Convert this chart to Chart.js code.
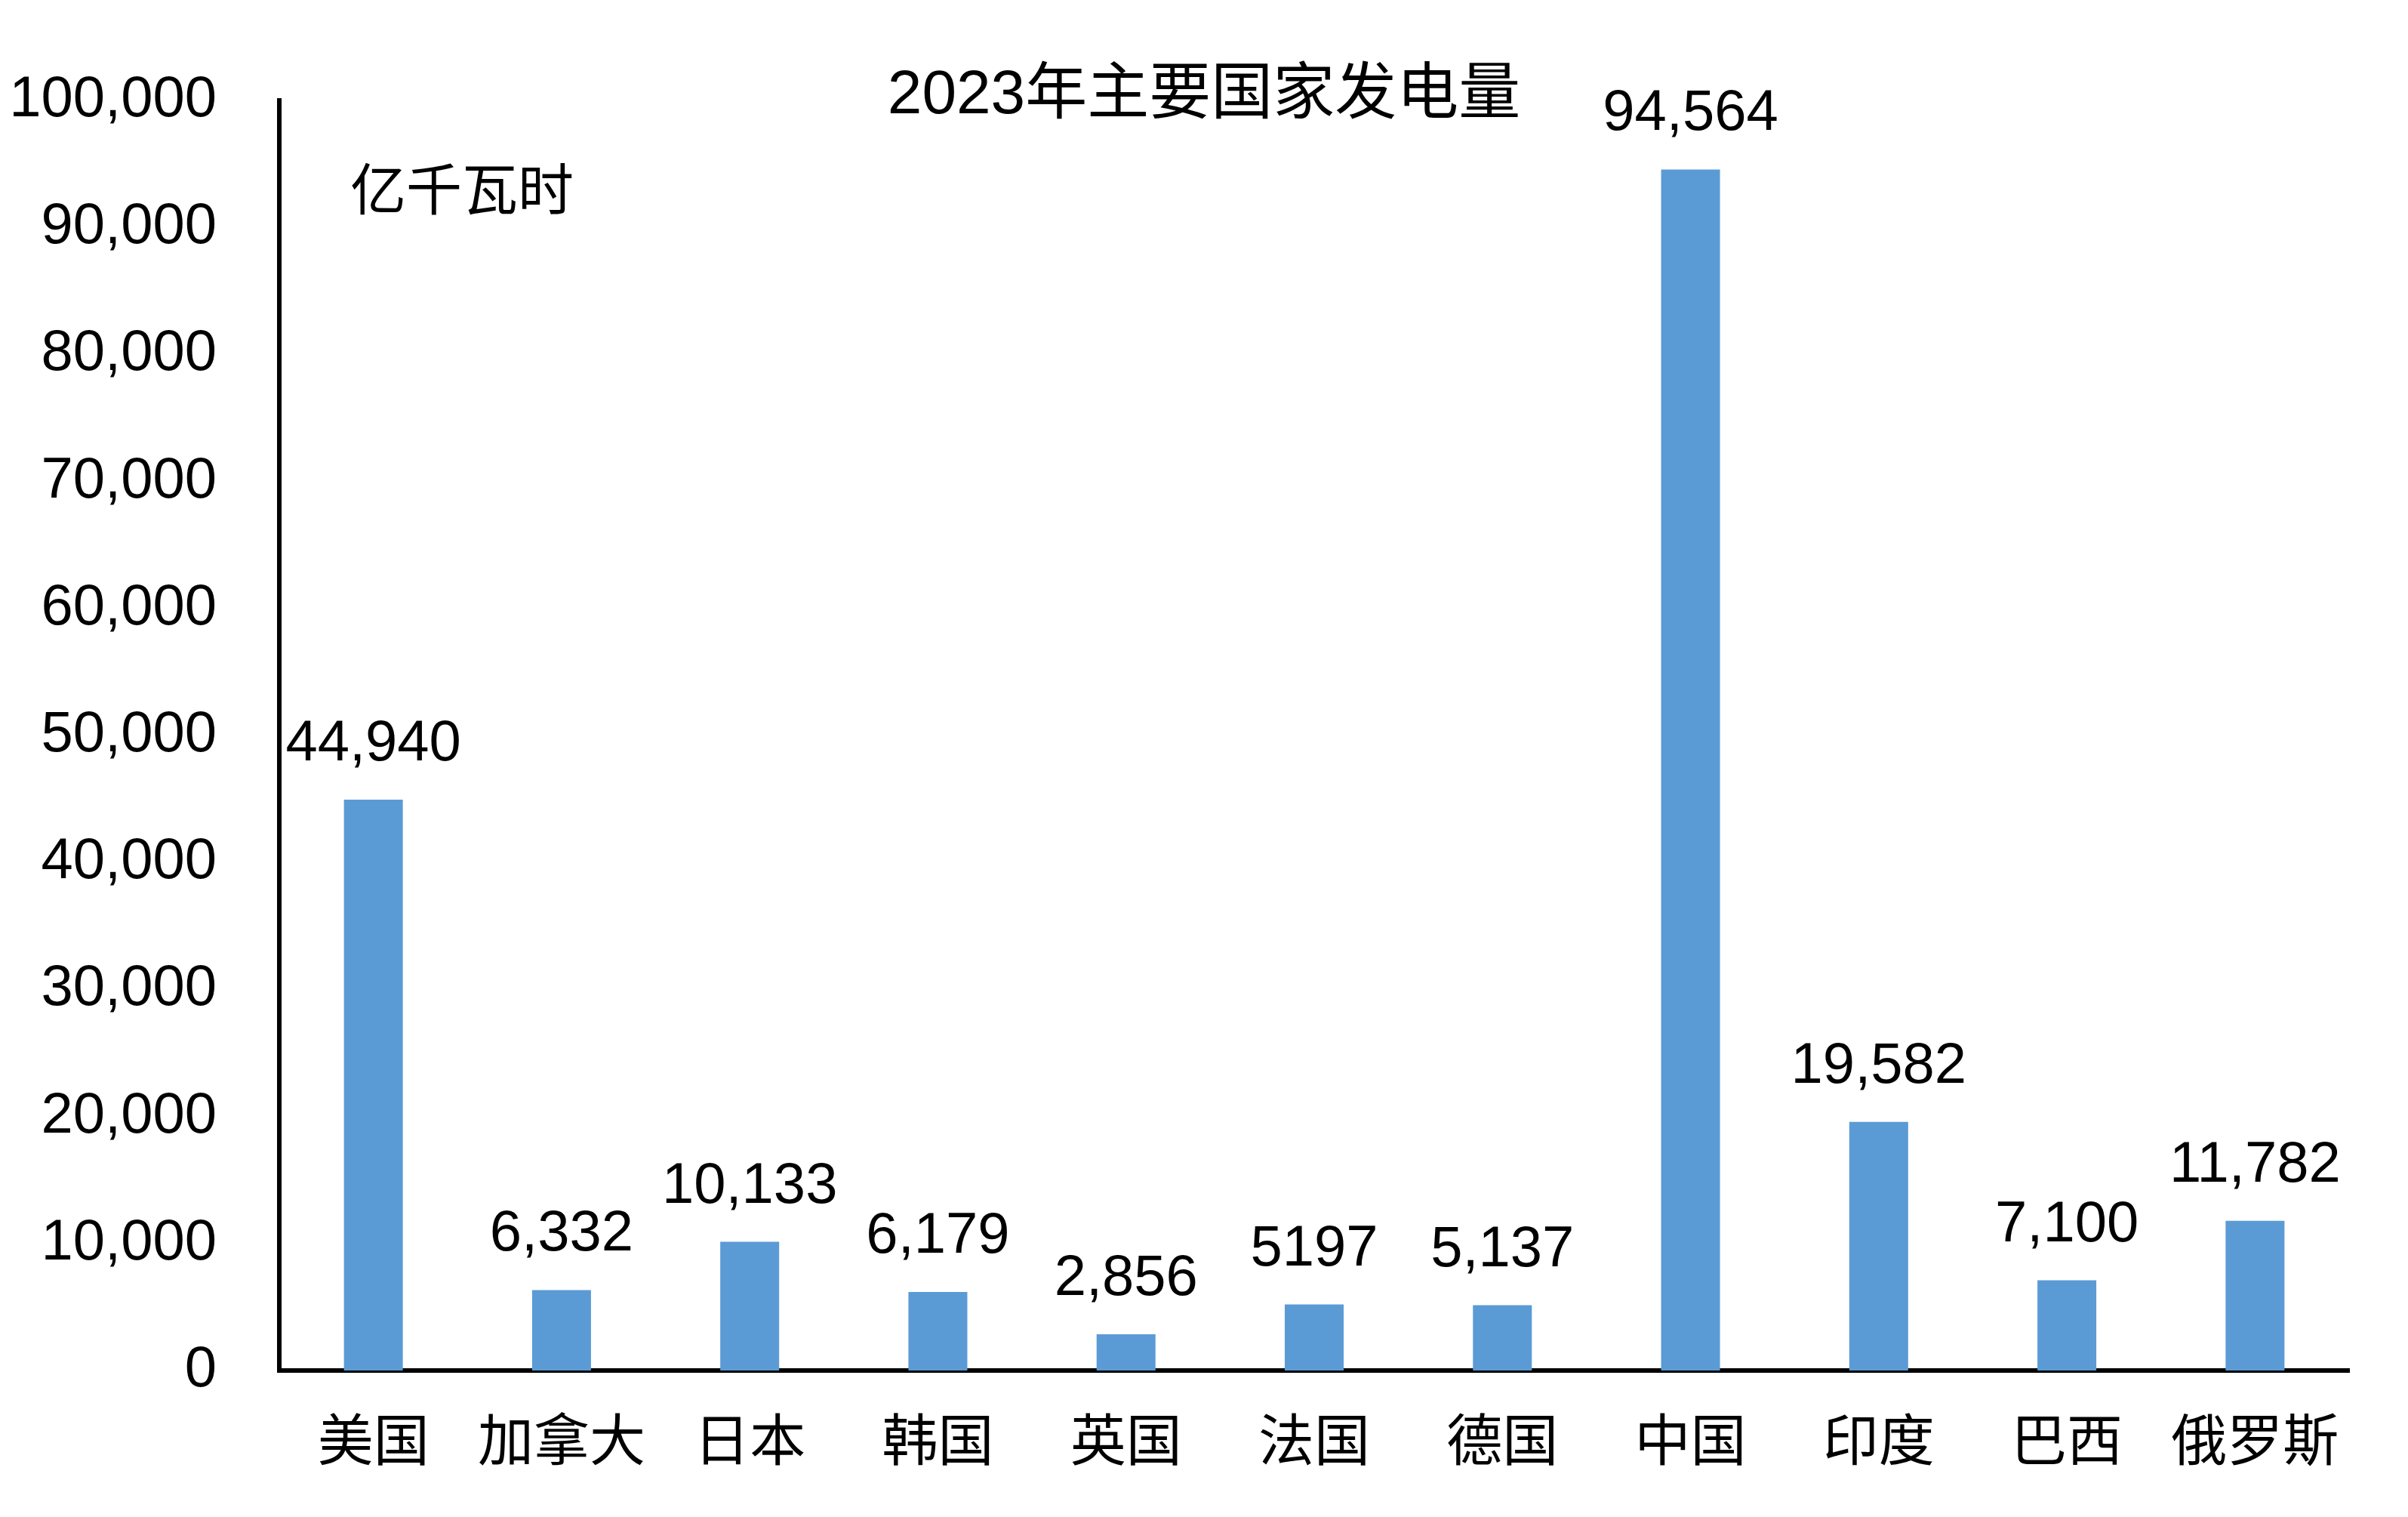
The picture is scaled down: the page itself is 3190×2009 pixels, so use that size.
<!DOCTYPE html>
<html>
<head>
<meta charset="utf-8">
<script src="https://cdn.jsdelivr.net/npm/chart.js@4/dist/chart.umd.min.js"></script>
<style>
  html, body { margin: 0; padding: 0; background: #fff; }
  #wrap { width: 3190px; height: 2009px; position: relative; }
</style>
</head>
<body>
<div id="wrap"><canvas id="powerChart"></canvas></div>
<script>
const countries = ["美国", "加拿大", "日本", "韩国", "英国", "法国", "德国", "中国", "印度", "巴西", "俄罗斯"];
const generation = [44940, 6332, 10133, 6179, 2856, 5197, 5137, 94564, 19582, 7100, 11782];
const valueLabels = ["44,940", "6,332", "10,133", "6,179", "2,856", "5197", "5,137", "94,564", "19,582", "7,100", "11,782"];
const chartTitle = "2023年主要国家发电量";
const unitLabel = "亿千瓦时";

const numFont = "'Liberation Sans', Arial, sans-serif";
const cjkFont = "'Liberation Sans', 'Noto Sans CJK SC', sans-serif";

// value labels above bars, title and unit text
const textPlugin = {
  id: "textPlugin",
  afterDatasetsDraw(chart) {
    const ctx = chart.ctx;
    const meta = chart.getDatasetMeta(0);
    ctx.save();
    ctx.fillStyle = "#000";
    ctx.textAlign = "center";
    ctx.textBaseline = "alphabetic";
    ctx.font = "76px " + numFont;
    meta.data.forEach((bar, i) => {
      ctx.fillText(valueLabels[i], bar.x, bar.y - 52);
    });
    ctx.restore();
  },
  afterDraw(chart) {
    const ctx = chart.ctx;
    ctx.save();
    ctx.fillStyle = "#000";
    ctx.textAlign = "center";
    ctx.textBaseline = "alphabetic";
    ctx.font = "82px " + cjkFont;
    ctx.fillText(chartTitle, chart.width / 2, 150);
    ctx.textAlign = "left";
    ctx.textBaseline = "middle";
    ctx.font = "74px " + cjkFont;
    ctx.fillText(unitLabel, chart.chartArea.left + 94, 258);
    ctx.restore();
  }
};

const canvas = document.getElementById("powerChart");
new Chart(canvas.getContext("2d"), {
  type: "bar",
  data: {
    labels: countries,
    datasets: [{
      data: generation,
      backgroundColor: "#5B9BD5",
      borderWidth: 0,
      categoryPercentage: 1,
      barPercentage: 0.313
    }]
  },
  options: {
    responsive: true,
    maintainAspectRatio: false,
    animation: false,
    layout: { padding: { left: 0, right: 78, top: 133, bottom: 0 } },
    plugins: {
      legend: { display: false },
      tooltip: { enabled: false },
      title: { display: false }
    },
    scales: {
      x: {
        z: 1,
        grid: { display: false, drawTicks: false },
        border: { display: true, color: "#000", width: 6 },
        ticks: {
          color: "#000",
          padding: 54,
          maxRotation: 0,
          autoSkip: false,
          font: { family: cjkFont, size: 74 }
        },
        afterFit(scale) { scale.height = 194; }
      },
      y: {
        z: 1,
        min: 0,
        max: 100000,
        grid: { display: false, drawTicks: false },
        border: { display: true, color: "#000", width: 6 },
        ticks: {
          stepSize: 10000,
          color: "#000",
          padding: 83,
          font: { family: numFont, size: 76 },
          callback: (v) => v.toLocaleString("en-US")
        },
        afterFit(scale) { scale.width = 370; }
      }
    }
  },
  plugins: [textPlugin]
});
</script>
</body>
</html>
